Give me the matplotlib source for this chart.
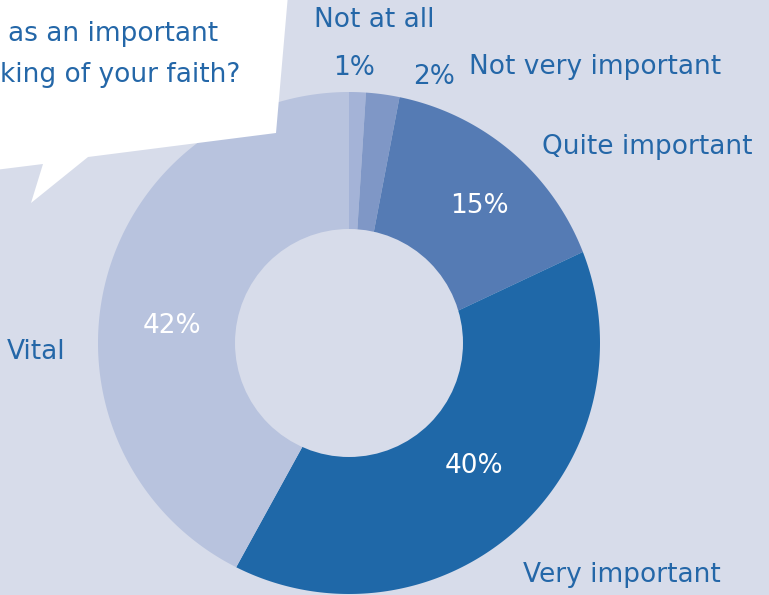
import matplotlib
matplotlib.use("Agg")
import matplotlib.pyplot as plt
import numpy as np
from matplotlib.patches import Circle, Polygon, PathPatch
from matplotlib.path import Path

# ---- data ----
categories = ["Not at all", "Not very important", "Quite important", "Very important", "Vital"]
values = [1, 2, 15, 40, 42]
pct_labels = ["1%", "2%", "15%", "40%", "42%"]
question_lines = ["as an important", "king of your faith?"]

# ---- style ----
W, H = 769, 595
bg = "#d7dcea"
colors = ["#a4b3d7", "#7f97c6", "#557bb4", "#1f68a8", "#b8c3de"]
txt_blue = "#2467a8"
FS = 19

fig = plt.figure(figsize=(W / 100, H / 100), dpi=100)
fig.patch.set_facecolor(bg)
ax = fig.add_axes([0, 0, 1, 1])
ax.set_facecolor(bg)

def Y(y):
    return H - y

ring_c = (349, Y(343))
apex = (349, Y(362))
R_OUT, R_IN = 251, 114

wedges, _ = ax.pie(values, colors=colors, startangle=90, counterclock=False,
                   radius=300, center=apex, frame=True)
for w in wedges:
    w.set_linewidth(0)

# mask outside the outer ring (rectangle with circular hole)
t = np.linspace(0, 2 * np.pi, 400)
cx, cy = ring_c
circ = np.column_stack([cx + R_OUT * np.cos(t), cy + R_OUT * np.sin(t)])  # ccw
rect = np.array([[-50, -50], [-50, H + 50], [W + 50, H + 50], [W + 50, -50], [-50, -50]])  # cw
verts = np.vstack([rect, circ, circ[:1]])
codes = ([Path.MOVETO] + [Path.LINETO] * 3 + [Path.CLOSEPOLY] +
         [Path.MOVETO] + [Path.LINETO] * (len(circ) - 1) + [Path.CLOSEPOLY])
ax.add_patch(PathPatch(Path(verts, codes), facecolor=bg, edgecolor="none", zorder=3))
ax.add_patch(Circle(ring_c, R_IN, facecolor=bg, edgecolor="none", zorder=3))

# percentage labels
pct_pos = [(333, 75, txt_blue), (413, 84, txt_blue), (450, 213, "white"),
           (445, 473, "white"), (143, 333, "white")]
for lab, (x, y, c) in zip(pct_labels, pct_pos):
    ax.text(x, Y(y), lab, color=c, fontsize=FS, ha="left", va="baseline", zorder=5)

# category labels
cat_pos = [(314, 27), (469, 74), (542, 154), (523, 582), (7, 359)]
for lab, (x, y) in zip(categories, cat_pos):
    ax.text(x, Y(y), lab, color=txt_blue, fontsize=FS, ha="left", va="baseline", zorder=5)

# speech bubble
bubble = [(-5, -5), (288, -5), (276, 133), (88, 157), (31, 203), (43, 164), (-5, 170)]
ax.add_patch(Polygon([(x, Y(y)) for x, y in bubble], closed=True, facecolor="white",
                     edgecolor="none", zorder=6))
ax.text(218, Y(41), question_lines[0], color=txt_blue, fontsize=FS, ha="right",
        va="baseline", zorder=7)
ax.text(240, Y(82), question_lines[1], color=txt_blue, fontsize=FS, ha="right",
        va="baseline", zorder=7)

ax.set_xlim(0, W)
ax.set_ylim(0, H)
ax.set_aspect("auto")
ax.axis("off")

fig.savefig("out.png", dpi=100, facecolor=bg)
